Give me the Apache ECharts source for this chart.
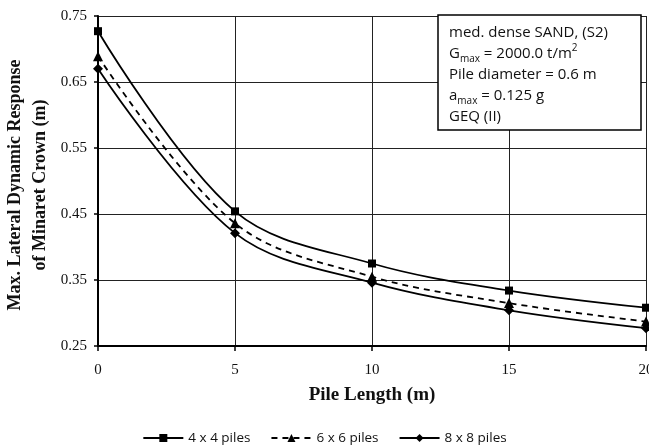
<!DOCTYPE html>
<html><head><meta charset="utf-8">
<script src="https://cdn.jsdelivr.net/npm/echarts@6/dist/echarts.min.js"></script>
<style>html,body{margin:0;padding:0;background:#fff}#c{width:649px;height:447px}</style>
</head><body><div id="c"></div>
<script>
const pileLength = [0, 5, 10, 15, 20];
const piles4x4 = [0.727, 0.454, 0.375, 0.334, 0.308];
const piles6x6 = [0.689, 0.436, 0.355, 0.315, 0.287];
const piles8x8 = [0.670, 0.421, 0.346, 0.304, 0.277];
const seriesNames = ['4 x 4 piles', '6 x 6 piles', '8 x 8 piles'];
const yTitle = ['Max. Lateral Dynamic Response', 'of Minaret Crown (m)'];
const xTitle = 'Pile Length (m)';

const pairs = a => pileLength.map((x, i) => [x, a[i]]);
const chart = echarts.init(document.getElementById('c'));
const serif = '"Liberation Serif", "Times New Roman", serif';
const sans = '"Open Sans", "Liberation Sans", sans-serif';
function mk(name, data, symbol, size, dashed) {
  return {
    name, type: 'line', data: pairs(data), smooth: 0.35,
    symbol, symbolSize: size, showSymbol: true,
    itemStyle: { color: '#000' },
    lineStyle: { color: '#000', width: 1.8, type: dashed ? [6, 5] : 'solid' },
    z: 3
  };
}
chart.setOption({
  animation: false,
  backgroundColor: '#fff',
  grid: { left: 98, right: 3, top: 16, bottom: 101, containLabel: false, outerBoundsMode: 'none' },
  xAxis: {
    type: 'value', min: 0, max: 20, interval: 5,
    axisLine: { show: true, onZero: false, lineStyle: { color: '#000', width: 2 } },
    axisTick: { show: true, length: 5, lineStyle: { color: '#000', width: 1.5 } },
    axisLabel: { fontFamily: serif, fontSize: 15, color: '#111', margin: 17, hideOverlap: false },
    splitLine: { show: true, lineStyle: { color: '#222', width: 1 } },
    name: xTitle, nameLocation: 'middle', nameGap: 40,
    nameTextStyle: { fontFamily: serif, fontSize: 19, fontWeight: 'bold', color: '#111' }
  },
  yAxis: {
    type: 'value', min: 0.25, max: 0.75, interval: 0.1,
    axisLine: { show: true, onZero: false, lineStyle: { color: '#000', width: 2 } },
    axisTick: { show: true, length: 4, lineStyle: { color: '#000', width: 1.5 } },
    axisLabel: { fontFamily: serif, fontSize: 15, color: '#111', margin: 11,
      formatter: v => v.toFixed(2) },
    splitLine: { show: true, lineStyle: { color: '#222', width: 1 } }
  },
  legend: {
    top: 426, left: 'center', itemWidth: 40, itemHeight: 10, itemGap: 20,
    textStyle: { fontFamily: sans, fontSize: 13.5, color: '#111' },
    data: seriesNames
  },
  graphic: [
    {
      type: 'text', x: 28, y: 185,
      style: { text: yTitle.join('\n'), fontFamily: serif, fontSize: 18, fontWeight: 'bold',
        fill: '#111', align: 'center', verticalAlign: 'middle', lineHeight: 25 },
      rotation: Math.PI / 2
    },
    {
      type: 'rect', shape: { x: 438, y: 15, width: 203, height: 115 },
      style: { fill: '#fff', stroke: '#000', lineWidth: 1.5 }, z: 10
    },
    {
      type: 'text', x: 449, y: 22, z: 11,
      style: {
        text: 'med. dense SAND, (S2)\n{n|G}{sub|max}{n| = 2000.0 t/m}{sup|2}\nPile diameter = 0.6 m\n{n|a}{sub|max}{n| = 0.125 g}\nGEQ (II)',
        fontFamily: sans, fontSize: 15, fill: '#111', lineHeight: 21,
        rich: {
          n: { fontFamily: sans, fontSize: 15, fill: '#111', lineHeight: 21 },
          sub: { fontFamily: sans, fontSize: 10, fill: '#111', verticalAlign: 'bottom', padding: [8, 0, 0, 0], lineHeight: 21 },
          sup: { fontFamily: sans, fontSize: 10, fill: '#111', verticalAlign: 'top', padding: [0, 0, 8, 0], lineHeight: 21 }
        }
      }
    }
  ],
  series: [
    mk(seriesNames[0], piles4x4, 'rect', 8, false),
    mk(seriesNames[1], piles6x6, 'triangle', 10, true),
    mk(seriesNames[2], piles8x8, 'diamond', 10, false)
  ]
});
</script></body></html>
